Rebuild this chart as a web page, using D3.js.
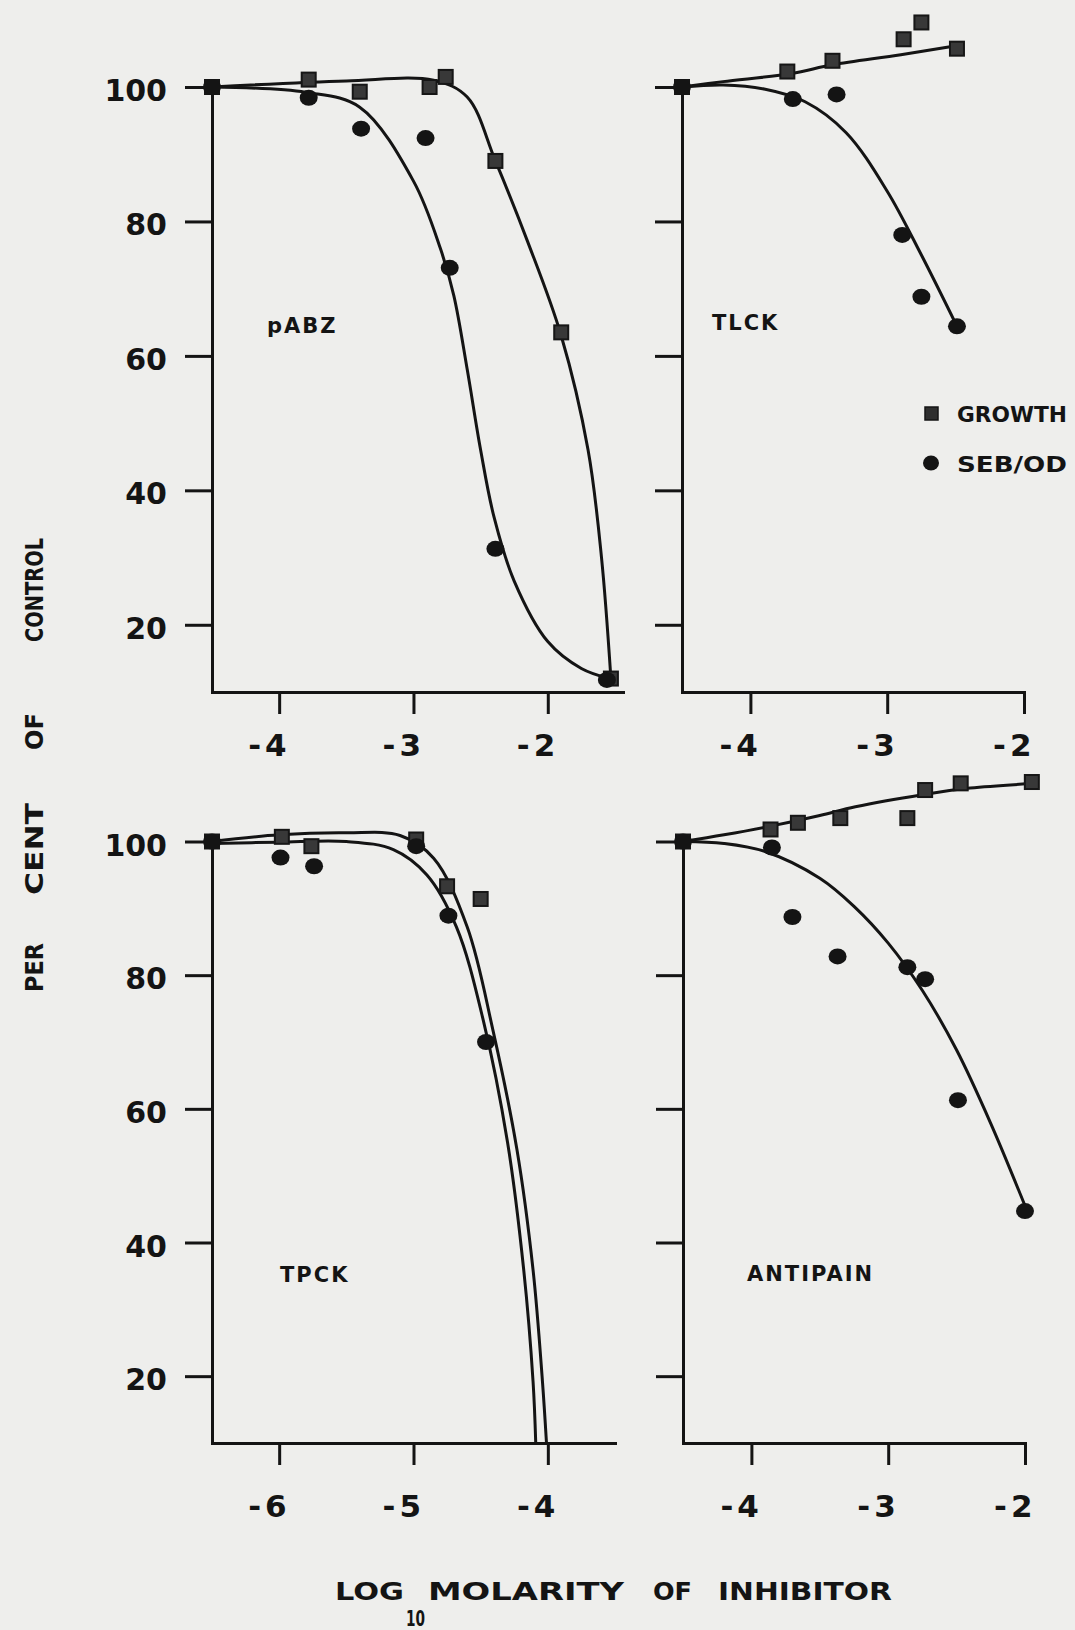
<!DOCTYPE html>
<html>
<head>
<meta charset="utf-8">
<script src="https://cdn.jsdelivr.net/npm/d3@7"></script>
<style>
  body { margin: 0; background: #eeeeec; }
  svg { display: block; }
  text { font-family: "DejaVu Sans", sans-serif; font-weight: bold; fill: #141414; }
</style>
</head>
<body>
<svg id="chart" width="1075" height="1630"></svg>
<script>
// tick labels
const yTicks = [20, 40, 60, 80, 100];
const xTicksA = [-4, -3, -2];
const xTicksTPCK = [-6, -5, -4];

// pABZ
const pabzGrowth = [[-4.5, 100], [-3.78, 101.1], [-3.4, 99.3], [-2.88, 100], [-2.76, 101.5], [-2.39, 89], [-1.9, 63.5], [-1.53, 12]];
const pabzSeb = [[-4.5, 100], [-3.78, 98.4], [-3.39, 93.8], [-2.91, 92.4], [-2.73, 73.1], [-2.39, 31.3], [-1.56, 11.8]];
const pabzGrowthFit = [[-4.5, 100], [-3.5, 100.9], [-2.85, 101], [-2.6, 98.5], [-2.39, 89], [-2.15, 77], [-1.9, 63], [-1.7, 46], [-1.6, 30], [-1.53, 12]];
const pabzSebFit = [[-4.5, 100], [-3.8, 99.2], [-3.4, 97], [-3.0, 86], [-2.8, 76], [-2.7, 69], [-2.6, 58], [-2.5, 46], [-2.4, 36], [-2.25, 26.5], [-2.0, 17.5], [-1.75, 13.5], [-1.54, 12]];

// TLCK
const tlckGrowth = [[-4.5, 100], [-3.73, 102.3], [-3.4, 103.9], [-2.88, 107.1], [-2.75, 109.6], [-2.49, 105.7]];
const tlckSeb = [[-4.5, 100], [-3.69, 98.2], [-3.37, 98.9], [-2.89, 78], [-2.75, 68.8], [-2.49, 64.4]];
const tlckGrowthFit = [[-4.5, 100], [-4.2, 100.8], [-3.7, 102], [-3.4, 103.3], [-2.9, 104.8], [-2.45, 106.3]];
const tlckSebFit = [[-4.5, 100], [-4.2, 100.3], [-3.9, 99.7], [-3.6, 97.8], [-3.3, 93.2], [-3.0, 84.5], [-2.75, 75], [-2.49, 64.4]];

// TPCK
const tpckGrowth = [[-6.5, 100], [-5.98, 100.7], [-5.76, 99.3], [-4.98, 100.3], [-4.75, 93.3], [-4.5, 91.4]];
const tpckSeb = [[-6.5, 100], [-5.99, 97.6], [-5.74, 96.3], [-4.98, 99.3], [-4.74, 88.9], [-4.46, 70]];
const tpckGrowthFit = [[-6.5, 100], [-6.0, 101], [-5.5, 101.3], [-5.1, 100.9], [-4.85, 97.5], [-4.6, 87.2], [-4.41, 71.9], [-4.23, 53.9], [-4.11, 35.9], [-4.04, 19.2], [-4.01, 10]];
const tpckSebFit = [[-6.5, 99.7], [-6.0, 99.9], [-5.5, 100], [-5.15, 98.8], [-4.9, 95], [-4.68, 87.2], [-4.48, 73.2], [-4.3, 55], [-4.18, 36], [-4.11, 19.2], [-4.09, 10]];

// ANTIPAIN
const antiGrowth = [[-4.5, 100], [-3.86, 101.8], [-3.66, 102.8], [-3.35, 103.5], [-2.86, 103.5], [-2.73, 107.7], [-2.47, 108.7], [-1.95, 108.9]];
const antiSeb = [[-4.5, 100], [-3.85, 99.1], [-3.7, 88.7], [-3.37, 82.8], [-2.86, 81.2], [-2.73, 79.4], [-2.49, 61.3], [-2.0, 44.7]];
const antiGrowthFit = [[-4.5, 100], [-4.2, 101], [-3.86, 102.3], [-3.5, 103.9], [-3.24, 105.2], [-2.75, 107], [-2.4, 108], [-1.92, 108.7]];
const antiSebFit = [[-4.5, 100], [-4.2, 99.7], [-3.9, 98.5], [-3.5, 94.5], [-3.25, 90.3], [-3.0, 84.8], [-2.75, 77.7], [-2.5, 68.8], [-2.25, 57.8], [-2.0, 45.5]];

const svg = d3.select("#chart");
const ink = "#141414";

const panels = [
  { label: "pABZ", lx: 267, ly: 333, xDom: [-4.5, -1.44], xRange: [212, 623], yRange: [692, 87], xTicks: xTicksA, yLabels: true, lblOff: 64,
    growth: pabzGrowth, seb: pabzSeb, growthFit: pabzGrowthFit, sebFit: pabzSebFit },
  { label: "TLCK", lx: 712, ly: 330, xDom: [-4.5, -2], xRange: [682, 1024], yRange: [692, 87], xTicks: xTicksA, yLabels: false, lblOff: 64,
    growth: tlckGrowth, seb: tlckSeb, growthFit: tlckGrowthFit, sebFit: tlckSebFit },
  { label: "TPCK", lx: 280, ly: 1282, xDom: [-6.5, -3.5], xRange: [212, 615], yRange: [1443, 841.5], xTicks: xTicksTPCK, yLabels: true, lblOff: 74,
    growth: tpckGrowth, seb: tpckSeb, growthFit: tpckGrowthFit, sebFit: tpckSebFit },
  { label: "ANTIPAIN", lx: 747, ly: 1281, xDom: [-4.5, -2], xRange: [683, 1025], yRange: [1443, 841.5], xTicks: xTicksA, yLabels: false, lblOff: 74,
    growth: antiGrowth, seb: antiSeb, growthFit: antiGrowthFit, sebFit: antiSebFit }
];

panels.forEach((p) => {
  const x = d3.scaleLinear().domain(p.xDom).range(p.xRange);
  const y = d3.scaleLinear().domain([10, 100]).range(p.yRange);
  const g = svg.append("g");

  // y axis
  const yAxis = g.append("g")
    .attr("transform", `translate(${p.xRange[0]},0)`)
    .call(d3.axisLeft(y).tickValues(yTicks).tickSize(27).tickSizeOuter(0).tickPadding(18)
      .tickFormat(p.yLabels ? d3.format("d") : () => ""));
  yAxis.selectAll("path, line").attr("stroke", ink).attr("stroke-width", 3);
  yAxis.selectAll("text").attr("font-size", 30).attr("dy", "0.45em").attr("fill", ink);

  // x axis
  const xAxis = g.append("g")
    .attr("transform", `translate(0,${p.yRange[0]})`)
    .call(d3.axisBottom(x).tickValues(p.xTicks).tickSize(22).tickSizeOuter(0)
      .tickFormat((d) => "-" + Math.abs(d)));
  xAxis.selectAll("path, line").attr("stroke", ink).attr("stroke-width", 3);
  xAxis.selectAll("text")
    .attr("font-size", 31).attr("fill", ink)
    .attr("text-anchor", "end").attr("letter-spacing", 4)
    .attr("x", 11).attr("y", p.lblOff).attr("dy", 0);
  svg.selectAll(".domain").attr("stroke-linecap", "square");

  // fitted curves
  const line = d3.line().x((d) => x(d[0])).y((d) => y(d[1])).curve(d3.curveCatmullRom.alpha(0.5));
  [p.growthFit, p.sebFit].forEach((fit) => {
    g.append("path").datum(fit).attr("d", line)
      .attr("fill", "none").attr("stroke", ink).attr("stroke-width", 3);
  });

  // growth squares
  const s = 14;
  g.selectAll(".sq").data(p.growth).join("rect")
    .attr("x", (d) => x(d[0]) - s / 2).attr("y", (d) => y(d[1]) - s / 2)
    .attr("width", s).attr("height", s)
    .attr("fill", "#383838").attr("stroke", "#161616").attr("stroke-width", 2);

  // SEB/OD circles
  g.selectAll(".dot").data(p.seb).join("ellipse")
    .attr("cx", (d) => x(d[0])).attr("cy", (d) => y(d[1]))
    .attr("rx", 9).attr("ry", 8)
    .attr("fill", ink);

  // panel label
  g.append("text").attr("x", p.lx).attr("y", p.ly)
    .attr("font-size", 21).attr("letter-spacing", 2).text(p.label);
});

// legend
const leg = svg.append("g");
leg.append("rect").attr("x", 925).attr("y", 407).attr("width", 13).attr("height", 13)
  .attr("fill", "#2e2e2e").attr("stroke", ink).attr("stroke-width", 1.5);
leg.append("ellipse").attr("cx", 931).attr("cy", 463).attr("rx", 8).attr("ry", 7.5).attr("fill", ink);
leg.append("text").attr("x", 957).attr("y", 422).attr("font-size", 22).attr("font-weight", "normal")
  .attr("textLength", 110).attr("lengthAdjust", "spacingAndGlyphs").text("GROWTH");
leg.append("text").attr("x", 957).attr("y", 472).attr("font-size", 22).attr("font-weight", "normal")
  .attr("textLength", 110).attr("lengthAdjust", "spacingAndGlyphs").text("SEB/OD");

// y title, one word at a time (wide word gaps)
const yTitle = [["PER", 992, 49], ["CENT", 895, 92], ["OF", 750, 37], ["CONTROL", 642, 104]];
svg.append("g").selectAll("text").data(yTitle).join("text")
  .attr("transform", (d) => `translate(43,${d[1]}) rotate(-90)`)
  .attr("font-size", 25)
  .attr("textLength", (d) => d[2]).attr("lengthAdjust", "spacingAndGlyphs")
  .text((d) => d[0]);

// x title
const xt = svg.append("g").attr("font-size", 25);
xt.append("text").attr("x", 335).attr("y", 1600).attr("textLength", 69).attr("lengthAdjust", "spacingAndGlyphs").text("LOG");
xt.append("text").attr("x", 406).attr("y", 1626).attr("font-size", 21).attr("textLength", 19).attr("lengthAdjust", "spacingAndGlyphs").text("10");
xt.append("text").attr("x", 428).attr("y", 1600).attr("textLength", 196).attr("lengthAdjust", "spacingAndGlyphs").text("MOLARITY");
xt.append("text").attr("x", 653).attr("y", 1600).attr("textLength", 39).attr("lengthAdjust", "spacingAndGlyphs").text("OF");
xt.append("text").attr("x", 718).attr("y", 1600).attr("textLength", 174).attr("lengthAdjust", "spacingAndGlyphs").text("INHIBITOR");
</script>
</body>
</html>
